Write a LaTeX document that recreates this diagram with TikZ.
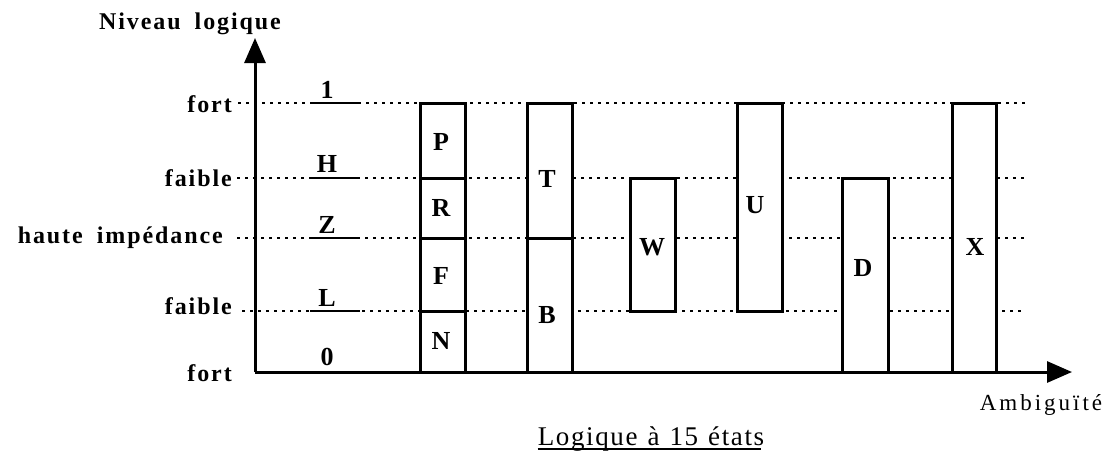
\documentclass[tikz,border=0pt]{standalone}
\usepackage{fontspec}
\setmainfont{Liberation Serif}
\usetikzlibrary{arrows.meta}
\begin{document}
\begin{tikzpicture}[x=1pt,y=-1pt,
  lab/.style={font=\fontsize{24}{26}\selectfont\bfseries\addfontfeatures{LetterSpace=8}, inner sep=0pt},
  letter/.style={font=\fontsize{26}{28}\selectfont\bfseries, inner sep=0pt},
  axis/.style={line width=3pt, -{Triangle[length=25pt,width=21pt]}},
  dots/.style={line width=2.5pt, dash pattern=on 2.5pt off 5.5pt},
  box/.style={line width=3pt, fill=white},
  tick/.style={line width=2.6pt}]
\useasboundingbox (0,0) rectangle (1113,453);
% level labels
\node[lab, anchor=east] (l1) at (232,104) {fort};
\node[lab, anchor=east] (l2) at (232,178) {faible};
\node[lab, anchor=east] (l3) at (223,238) {haute\hspace{14pt}impédance};
\node[lab, anchor=east] (l4) at (232,306) {faible};
\node[lab, anchor=east] (l5) at (232,373) {fort};
\coordinate (e1) at (1025,103);
\coordinate (e2) at (1025,178);
\coordinate (e3) at (1025,238);
\coordinate (e4) at (1025,311);
% dotted lines
\draw[dots] (l1.east |- 0,103) ++(6,0) -- (e1);
\draw[dots] (l2.east |- 0,178) ++(5,0) -- (e2);
\draw[dots] (l3.east |- 0,238) ++(14,0) -- (e3);
\draw[dots] (l4.east |- 0,311) ++(10,0) -- (e4);
% axes
\coordinate (o) at (255,372);
\coordinate (ytip) at (255,38);
\coordinate (xtip) at (1072,372);
\draw[axis] (o) -- (ytip);
\draw[axis] (o) -- (xtip);
% short ticks and their labels
\foreach \y/\n in {103/a,178/b,238/c,311/d}{
  \coordinate (ta\n) at (310,\y);
  \coordinate (tb\n) at (360,\y);
  \draw[tick] (ta\n) -- (tb\n);
}
\node[letter] (n1) at (327,90) {1};
\node[letter] (nH) at (327,164) {H};
\node[letter] (nZ) at (327,225) {Z};
\node[letter] (nL) at (327,298) {L};
\node[letter] (n0) at (327,357) {0};
% boxes
\draw[box] (420,103) rectangle (465,372);
\draw[box] (420,178) -- (465,178);
\draw[box] (420,238) -- (465,238);
\draw[box] (420,311) -- (465,311);
\draw[box] (527,103) rectangle (572,372);
\draw[box] (527,238) -- (572,238);
\draw[box] (630,178) rectangle (675,311);
\draw[box] (737,103) rectangle (782,311);
\draw[box] (842,178) rectangle (888,372);
\draw[box] (952,103) rectangle (996,372);
% redraw x axis over box bottoms
\draw[line width=3pt] (o) -- (1040,372);
% box letters
\node[letter] (P) at (441,142) {P};
\node[letter] (R) at (441,208) {R};
\node[letter] (F) at (441,276) {F};
\node[letter] (N) at (441,341) {N};
\node[letter] (T) at (547,179) {T};
\node[letter] (B) at (547,315) {B};
\node[letter] (W) at (652,247) {W};
\node[letter] (U) at (755,205) {U};
\node[letter] (D) at (863,268) {D};
\node[letter] (X) at (975,247) {X};
% axis titles
\node[lab] (ny) at (190,24) {Niveau\hspace{14pt}logique};
\node[font=\fontsize{23}{25}\selectfont\addfontfeatures{LetterSpace=13}, inner sep=0pt] (nx) at (1041,405) {Ambiguïté};
\node[font=\fontsize{27}{29}\selectfont\addfontfeatures{LetterSpace=6}, inner sep=0pt, anchor=base] (title) at (651,445) {Logique\hspace{10pt}à\hspace{10pt}15\hspace{10pt}états};
\draw[line width=2pt] ([yshift=-4pt]title.base west) -- ([yshift=-4pt,xshift=-3pt]title.base east);
\end{tikzpicture}
\end{document}
